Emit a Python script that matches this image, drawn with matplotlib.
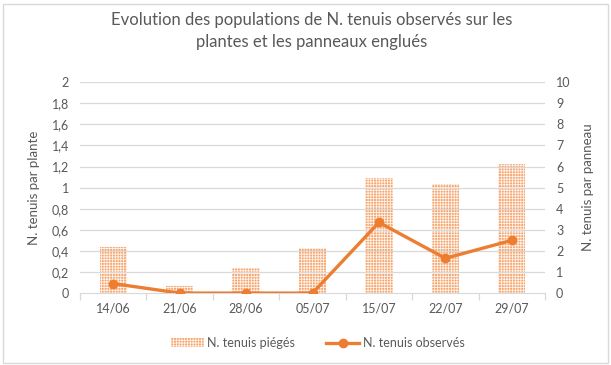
import matplotlib
matplotlib.use("Agg")
import matplotlib.pyplot as plt
from matplotlib.patches import Rectangle, Patch
from matplotlib.lines import Line2D
import numpy as np

plt.rcParams['font.family'] = ['Lato', 'DejaVu Sans']
plt.rcParams['hatch.linewidth'] = 0.6

dates = ["14/06", "21/06", "28/06", "05/07", "15/07", "22/07", "29/07"]
pieges = [2.2, 0.33, 1.2, 2.15, 5.45, 5.15, 6.1]          # per panel (right axis)
observes = [0.09, 0.0, 0.0, 0.0, 0.67, 0.33, 0.5]          # per plant (left axis)

left_ticks = [0, 0.2, 0.4, 0.6, 0.8, 1.0, 1.2, 1.4, 1.6, 1.8, 2.0]
right_ticks = list(range(0, 11))

orange = "#ED7D31"
bar_face = "#F5A772"
bar_hatch = "++++++"
text_col = "#595959"
grid_col = "#D9D9D9"

fig = plt.figure(figsize=(6.11, 3.65), dpi=100)
ax = fig.add_axes([0.131, 0.197, 0.761, 0.578])
ax2 = ax.twinx()

x = np.arange(len(dates))

# bars on the secondary axis, drawn behind the line
ax2.bar(x, pieges, width=0.41, facecolor=bar_face, edgecolor="#FFF3EA",
        hatch=bar_hatch, linewidth=0, zorder=2)
ax.set_zorder(ax2.get_zorder() + 1)
ax.patch.set_visible(False)
ax.plot(x, observes, color=orange, lw=2.4, marker="o", ms=6, zorder=3)

ax.set_ylim(0, 2)
ax2.set_ylim(0, 10)
ax.set_xlim(-0.5, len(dates) - 0.5)
ax.set_yticks(left_ticks)
ax.set_yticklabels([("%g" % v).replace(".", ",") for v in left_ticks])
ax2.set_yticks(right_ticks)
ax.set_xticks(x)
ax.set_xticklabels(dates)

for t in left_ticks[1:]:
    ax.axhline(t, color=grid_col, lw=0.9, zorder=0)

# category boundary ticks
ax.set_xticks(np.arange(-0.5, len(dates), 1.0), minor=True)
ax.tick_params(axis="x", which="major", length=0, colors=text_col, labelsize=9, pad=7)
ax.tick_params(axis="x", which="minor", length=5, color=grid_col, width=0.9)
ax.tick_params(axis="y", length=0, colors=text_col, labelsize=9, pad=8)
ax2.tick_params(axis="y", length=0, colors=text_col, labelsize=9, pad=8)

for a in (ax, ax2):
    for s in ("top", "left", "right"):
        a.spines[s].set_visible(False)
ax.spines["bottom"].set_color(grid_col)
ax2.spines["bottom"].set_visible(False)

ax.set_ylabel("N. tenuis par plante", color=text_col, fontsize=9.5, labelpad=8)
ax2.set_ylabel("N. tenuis par panneau", color=text_col, fontsize=9.5, labelpad=8)

fig.text(0.51, 0.915, "Evolution des populations de N. tenuis observés sur les\nplantes et les panneaux englués",
         ha="center", va="center", fontsize=12, color=text_col, linespacing=1.5)

handles = [Patch(facecolor=bar_face, edgecolor="#FFF3EA", hatch=bar_hatch, linewidth=0),
           Line2D([0], [0], color=orange, lw=2.4, marker="o", ms=6)]
fig.legend(handles, ["N. tenuis piégés", "N. tenuis observés"], loc="center",
           bbox_to_anchor=(0.52, 0.06), ncol=2, frameon=False, fontsize=9,
           labelcolor=text_col, handlelength=2.6, columnspacing=2.5, handletextpad=0.3)

fig.add_artist(Rectangle((0.005, 0.005), 0.99, 0.985, transform=fig.transFigure,
                         fill=False, edgecolor="#D9D9D9", lw=1))

fig.savefig("out.png", dpi=100)
